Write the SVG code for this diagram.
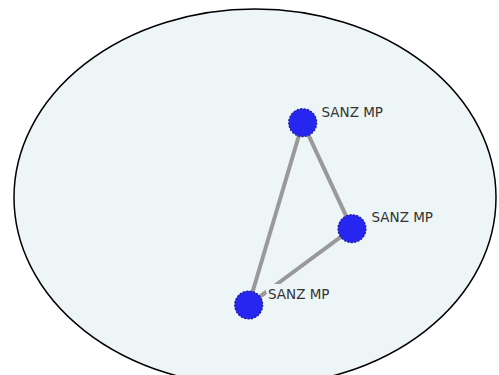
<svg xmlns="http://www.w3.org/2000/svg" width="499" height="375" viewBox="0 0 499 375">
<style>
.node{fill:#2626f0;stroke:#1a1a90;stroke-width:1.2;stroke-dasharray:2 1.5}
.lbl{font-family:"DejaVu Sans",sans-serif;font-size:13.5px;fill:#333}
.bg{fill:#eef5f7}
.edge{stroke:#999;stroke-width:4;fill:none}
</style>
<rect width="499" height="375" fill="#fff"/>
<ellipse cx="255" cy="197.5" rx="241" ry="188.5" fill="#eef5f7" stroke="#000" stroke-width="1.5"/>
<g id="connectors">
<line class="edge" x1="302.7" y1="122.7" x2="352" y2="228.7"/>
<line class="edge" x1="352" y1="228.7" x2="248.7" y2="305"/>
<line class="edge" x1="302.7" y1="122.7" x2="248.7" y2="305"/>
</g>
<g id="n1">
<circle class="node" cx="302.7" cy="122.7" r="14"/>
<text class="lbl" x="321.5" y="117.3">SANZ MP</text>
</g>
<g id="n2">
<circle class="node" cx="352" cy="228.7" r="14"/>
<text class="lbl" x="371.5" y="222.3">SANZ MP</text>
</g>
<g id="n3">
<rect class="bg" x="266" y="284" width="68" height="17"/>
<line class="edge" x1="248.7" y1="305" x2="266" y2="292"/>
<circle class="node" cx="248.7" cy="305" r="14"/>
<text class="lbl" x="268" y="299">SANZ MP</text>
</g>
</svg>
